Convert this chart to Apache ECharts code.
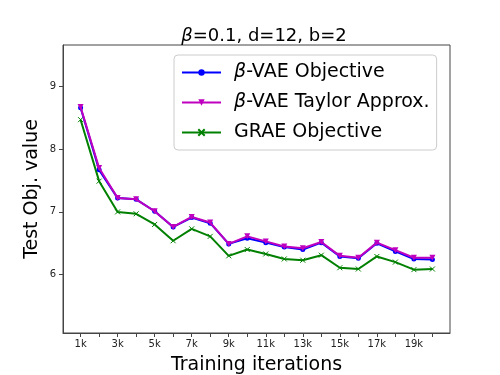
<!DOCTYPE html>
<html><head><meta charset="utf-8">
<script src="https://cdn.jsdelivr.net/npm/echarts@6/dist/echarts.min.js"></script>
<style>html,body{margin:0;padding:0;background:#fff}#c{width:500px;height:375px}</style>
</head><body><div id="c"></div>
<script>
const iterations = [1,2,3,4,5,6,7,8,9,10,11,12,13,14,15,16,17,18,19,20];
const xTickLabels = [1,3,5,7,9,11,13,15,17,19];
const yTicks = [6,7,8,9];
const betaVAE = [8.66,7.67,7.22,7.20,7.01,6.76,6.91,6.82,6.49,6.58,6.51,6.44,6.40,6.51,6.29,6.26,6.50,6.37,6.25,6.24];
const betaTaylor = [8.67,7.70,7.22,7.20,7.01,6.76,6.92,6.83,6.49,6.61,6.53,6.45,6.42,6.52,6.30,6.27,6.51,6.39,6.27,6.27];
const grae = [8.47,7.49,7.00,6.97,6.80,6.54,6.73,6.61,6.30,6.40,6.33,6.25,6.23,6.31,6.11,6.09,6.29,6.20,6.08,6.09];

const font = 'DejaVu Sans';
const chart = echarts.init(document.getElementById('c'));
const pair = a => a.map((v,i)=>[iterations[i], v]);
chart.setOption({
  animation:false,
  backgroundColor:'#fff',
  title:{
    text:'{b|β}=0.1, d=12, b=2', left:259, textAlign:'center', top:22,
    textStyle:{fontFamily:font, fontSize:18, fontWeight:'normal', color:'#000',
      rich:{b:{fontFamily:font, fontSize:18, fontStyle:'italic', color:'#000'}}}
  },
  grid:{left:63, right:50, top:45, bottom:42, outerBoundsMode:'none', containLabel:false,
    show:true, borderColor:'#444', borderWidth:1, backgroundColor:'#fff'},
  legend:{
    orient:'vertical', left:174, top:55, width:266,
    padding:[8,7,8,7], itemGap:11, itemWidth:39, itemHeight:8,
    backgroundColor:'rgba(255,255,255,0.8)', borderColor:'#ccc', borderWidth:1, borderRadius:4,
    formatter: n => n.replace('β','{b|β}'),
    textStyle:{fontFamily:font, fontSize:19, color:'#000', padding:[0,0,0,8],
      rich:{b:{fontFamily:font, fontSize:19, fontStyle:'italic', color:'#000'}}}
  },
  xAxis:{
    type:'value', min:0.05, max:20.95,
    name:'Training iterations', nameLocation:'middle', nameGap:23, nameMoveOverlap:false,
    nameTextStyle:{fontFamily:font, fontSize:19, color:'#000'},
    axisLine:{show:true, lineStyle:{color:'#444', width:1}},
    axisTick:{show:true, inside:false, length:4, customValues:iterations, lineStyle:{color:'#444'}},
    axisLabel:{fontFamily:font, fontSize:10, color:'#222', margin:6, customValues:xTickLabels, formatter:v=>v+'k'},
    splitLine:{show:false}
  },
  yAxis:{
    type:'value', min:5.07, max:9.66,
    name:'Test Obj. value', nameLocation:'middle', nameGap:21, nameRotate:90, nameMoveOverlap:false,
    nameTextStyle:{fontFamily:font, fontSize:19, color:'#000'},
    axisLine:{show:true, lineStyle:{color:'#444', width:1}},
    axisTick:{show:true, inside:false, length:4, customValues:yTicks, lineStyle:{color:'#444'}},
    axisLabel:{fontFamily:font, fontSize:10, color:'#222', margin:7, customValues:yTicks},
    splitLine:{show:false}
  },
  series:[
    {name:'β-VAE Objective', type:'line', data:pair(betaVAE), symbol:'circle', symbolSize:5,
      lineStyle:{color:'#0000ff', width:2}, itemStyle:{color:'#0000ff'}, z:3},
    {name:'β-VAE Taylor Approx.', type:'line', data:pair(betaTaylor), symbol:'triangle', symbolRotate:180, symbolSize:6,
      lineStyle:{color:'#bf00bf', width:2}, itemStyle:{color:'#bf00bf'}, z:4},
    {name:'GRAE Objective', type:'line', data:pair(grae), symbol:'path://M0,0L10,10M10,0L0,10', symbolSize:5,
      lineStyle:{color:'#008000', width:2}, itemStyle:{color:'#008000', borderColor:'#008000', borderWidth:1}, z:2}
  ]
});
</script></body></html>
